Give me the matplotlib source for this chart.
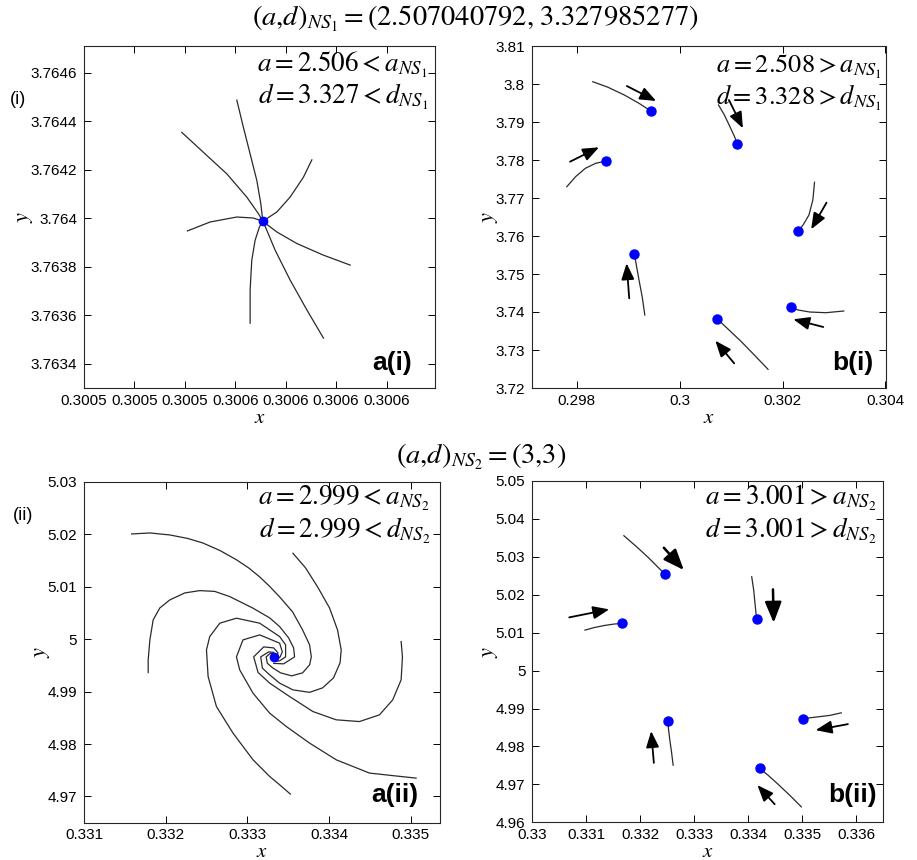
import matplotlib
matplotlib.use('Agg')
import matplotlib.pyplot as plt
from matplotlib.ticker import FuncFormatter

plt.rcParams['font.family'] = ['Liberation Sans', 'DejaVu Sans']
plt.rcParams['mathtext.fontset'] = 'stix'

# ---------------- data ----------------
# a(i): stable node, trajectories converging to fixed point
ai_fixed = (0.30055546, 3.7639873)
ai_curves_x = [
    [0.30053939, 0.30054367, 0.30054831, 0.30055228, 0.30055458, 0.30055546],
    [0.30055030, 0.30055161, 0.30055294, 0.30055427, 0.30055506, 0.30055546],
    [0.30056518, 0.30056351, 0.30056087, 0.30055823, 0.30055625, 0.30055546],
    [0.30057278, 0.30056748, 0.30056220, 0.30055823, 0.30055546],
    [0.30056748, 0.30056419, 0.30056087, 0.30055790, 0.30055625, 0.30055546],
    [0.30055294, 0.30055294, 0.30055327, 0.30055393, 0.30055478, 0.30055546],
    [0.30054050, 0.30054500, 0.30055030, 0.30055359, 0.30055546],
]
ai_curves_y = [
    [3.7643540, 3.7642718, 3.7641831, 3.7640870, 3.7640189, 3.7639873],
    [3.7644869, 3.7643744, 3.7642652, 3.7641556, 3.7640600, 3.7639873],
    [3.7642406, 3.7641691, 3.7640870, 3.7640255, 3.7639984, 3.7639873],
    [3.7638067, 3.7638477, 3.7638957, 3.7639434, 3.7639873],
    [3.7635058, 3.7636219, 3.7637451, 3.7638682, 3.7639503, 3.7639873],
    [3.7635673, 3.7637040, 3.7638272, 3.7639093, 3.7639639, 3.7639873],
    [3.7639475, 3.7639844, 3.7640049, 3.7640008, 3.7639873],
]
ai_xticks = [0.30052, 0.30053, 0.30054, 0.30055, 0.30056, 0.30057, 0.30058]
ai_xticklabels = ['0.3005', '0.3005', '0.3005', '0.3006', '0.3006', '0.3006', '0.3006']
ai_yticks = [3.7634, 3.7636, 3.7638, 3.764, 3.7642, 3.7644, 3.7646]
ai_yticklabels = ['3.7634', '3.7636', '3.7638', '3.764', '3.7642', '3.7644', '3.7646']

# b(i): period orbit points with short trajectories
bi_curves_x = [
    [0.298309, 0.298607, 0.298923, 0.299208, 0.299446],
    [0.300754, 0.300868, 0.300976, 0.301071, 0.301115],
    [0.302620, 0.302588, 0.302512, 0.302398, 0.302303],
    [0.303189, 0.302840, 0.302525, 0.302303, 0.302157],
    [0.301716, 0.301450, 0.301198, 0.300944, 0.300724],
    [0.299321, 0.299270, 0.299208, 0.299156, 0.299118],
    [0.297805, 0.297975, 0.298165, 0.298366, 0.298574],
]
bi_curves_y = [
    [3.800605, 3.799132, 3.797105, 3.794921, 3.792816],
    [3.794474, 3.791842, 3.788763, 3.785974, 3.784210],
    [3.774131, 3.769473, 3.765526, 3.762894, 3.761394],
    [3.740263, 3.739815, 3.740000, 3.740526, 3.741236],
    [3.724920, 3.728684, 3.732184, 3.735447, 3.738236],
    [3.739210, 3.744026, 3.748421, 3.752368, 3.755263],
    [3.772973, 3.775605, 3.777815, 3.779131, 3.779737],
]
bi_arrow_tail = [(0.298972, 3.799474), (0.300957, 3.795789), (0.302853, 3.768763),
                 (0.302790, 3.736053), (0.301058, 3.726500), (0.299018, 3.743605),
                 (0.297867, 3.779553)]
bi_arrow_head = [(0.299541, 3.795526), (0.301228, 3.788342), (0.302555, 3.761763),
                 (0.302208, 3.738079), (0.300692, 3.732447), (0.298967, 3.752816),
                 (0.298430, 3.783342)]

# a(ii): stable focus, spiralling trajectories
aii_fixed = (0.333323, 4.99655)
aii_curves_x = [
    [0.331583, 0.331807, 0.332051, 0.332271, 0.332455, 0.332663, 0.332870, 0.333017, 0.333152,
     0.333274, 0.333396, 0.333555, 0.333677, 0.333763, 0.333784, 0.333763, 0.333677, 0.333543,
     0.333408, 0.333311, 0.333245, 0.333231, 0.333280, 0.333323],
    [0.333559, 0.333714, 0.333861, 0.334007, 0.334105, 0.334150, 0.334136, 0.334056, 0.333922,
     0.333763, 0.333559, 0.333396, 0.333274, 0.333185, 0.333164, 0.333262, 0.333323],
    [0.334884, 0.334900, 0.334884, 0.334781, 0.334619, 0.334374, 0.334089, 0.333803, 0.333518,
     0.333274, 0.333132, 0.333078, 0.333201, 0.333323, 0.333374, 0.333372],
    [0.335067, 0.334802, 0.334496, 0.334089, 0.333763, 0.333478, 0.333274, 0.333070, 0.332907,
     0.332867, 0.332947, 0.333152, 0.333396, 0.333429, 0.333402, 0.333359],
    [0.333527, 0.333396, 0.333274, 0.333070, 0.332825, 0.332622, 0.332520, 0.332500, 0.332540,
     0.332663, 0.332867, 0.333152, 0.333396, 0.333469, 0.333469, 0.333396, 0.333335],
    [0.331786, 0.331786, 0.331807, 0.331847, 0.331929, 0.332051, 0.332235, 0.332418, 0.332601,
     0.332785, 0.333070, 0.333274, 0.333396, 0.333506, 0.333567, 0.333579, 0.333445, 0.333323],
]
aii_curves_y = [
    [5.02004, 5.02023, 5.01985, 5.01918, 5.01832, 5.01690, 5.01509, 5.01356, 5.01185,
     5.01004, 5.00804, 5.00518, 5.00175, 4.99890, 4.99661, 4.99509, 4.99356, 4.99299,
     4.99356, 4.99451, 4.99539, 4.99661, 4.99728, 4.99728],
    [5.01636, 5.01356, 5.00994, 5.00594, 5.00175, 4.99794, 4.99547, 4.99261, 4.99070,
     4.98985, 4.99032, 4.99160, 4.99318, 4.99446, 4.99661, 4.99756, 4.99747],
    [4.99952, 4.99661, 4.99223, 4.98842, 4.98556, 4.98428, 4.98461, 4.98619, 4.98905,
     4.99160, 4.99364, 4.99661, 4.99851, 4.99832, 4.99741, 4.99661],
    [4.97350, 4.97394, 4.97446, 4.97699, 4.98017, 4.98333, 4.98588, 4.98969, 4.99413,
     4.99661, 4.99985, 5.00080, 4.99922, 4.99756, 4.99661, 4.99604],
    [4.97046, 4.97223, 4.97381, 4.97699, 4.98207, 4.98714, 4.99286, 4.99794, 5.00048,
     5.00303, 5.00398, 5.00303, 5.00048, 4.99890, 4.99661, 4.99585, 4.99575],
    [4.99362, 4.99604, 4.99985, 5.00366, 5.00594, 5.00747, 5.00880, 5.00924, 5.00909,
     5.00810, 5.00589, 5.00404, 5.00238, 5.00023, 4.99832, 4.99661, 4.99528, 4.99537],
]

# b(ii): period orbit points with short trajectories
bii_curves_x = [
    [0.331696, 0.331931, 0.332145, 0.332330, 0.332454],
    [0.334063, 0.334100, 0.334124, 0.334143, 0.334156],
    [0.335722, 0.335506, 0.335289, 0.335136, 0.335012],
    [0.334982, 0.334766, 0.334550, 0.334365, 0.334211],
    [0.332608, 0.332578, 0.332547, 0.332523, 0.332510],
    [0.330975, 0.331160, 0.331345, 0.331511, 0.331659],
]
bii_curves_y = [
    [5.035567, 5.032665, 5.029868, 5.027230, 5.025462],
    [5.024750, 5.021240, 5.017731, 5.015093, 5.013510],
    [4.988866, 4.988180, 4.987811, 4.987547, 4.987283],
    [4.964064, 4.967151, 4.970053, 4.972428, 4.974196],
    [4.975067, 4.978576, 4.981663, 4.984486, 4.986676],
    [5.010686, 5.011399, 5.011926, 5.012269, 5.012454],
]
bii_arrow_tail = [(0.332436, 5.032401), (0.334457, 5.021425), (0.335844, 4.985884),
                  (0.334488, 4.964776), (0.332251, 4.975673), (0.330684, 5.014037)]
bii_arrow_head = [(0.332806, 5.026517), (0.334470, 5.012612), (0.335247, 4.984301),
                  (0.334169, 4.969790), (0.332201, 4.984037), (0.331424, 5.016148)]
bii_arrow_bold = [True, True, False, False, False, False]

title1 = r'$(a{,}d)_{NS_1}=(2.507040792{,}\;3.327985277)$'
title2 = r'$(a{,}d)_{NS_2}=(3{,}3)$'
txt_ai = [r'$a=2.506<a_{NS_1}$', r'$d=3.327<d_{NS_1}$']
txt_bi = [r'$a=2.508>a_{NS_1}$', r'$d=3.328>d_{NS_1}$']
txt_aii = [r'$a=2.999<a_{NS_2}$', r'$d=2.999<d_{NS_2}$']
txt_bii = [r'$a=3.001>a_{NS_2}$', r'$d=3.001>d_{NS_2}$']

# ---------------- figure ----------------
W, H = 917, 860
fig = plt.figure(figsize=(W / 100, H / 100), dpi=100)


def make_ax(l, r, t, b):
    return fig.add_axes([l / W, 1 - b / H, (r - l) / W, (b - t) / H])


LINE_C = '#2a2a2a'
EDGE_C = '#262626'


def style(ax, xlab_y):
    for s in ax.spines.values():
        s.set_color(EDGE_C)
        s.set_linewidth(0.8)
    ax.tick_params(direction='in', top=True, right=True, length=5, width=0.7,
                   labelsize=11, colors='black')
    ax.tick_params(axis='x', pad=4)
    ax.tick_params(axis='y', pad=5)
    ax.set_xlabel(r'$x$', fontsize=15)
    ax.xaxis.set_label_coords(0.5, xlab_y)
    ax.xaxis.label.set_va('center')
    ax.set_ylabel(r'$y$', fontsize=16, labelpad=-3)


gfmt = FuncFormatter(lambda v, p: f'{v:g}')

# a(i)
ax1 = make_ax(84, 435, 46, 388)
for xs, ys in zip(ai_curves_x, ai_curves_y):
    ax1.plot(xs, ys, color=LINE_C, lw=0.9)
ax1.plot(*ai_fixed, 'o', color='blue', ms=6)
ax1.set_xlim(0.30052, 0.3005896)
ax1.set_ylim(3.7633, 3.76471)
ax1.set_xticks(ai_xticks)
ax1.set_xticklabels(ai_xticklabels)
ax1.set_yticks(ai_yticks)
ax1.set_yticklabels(ai_yticklabels)
style(ax1, -0.086)

# b(i)
ax2 = make_ax(532, 885.5, 46, 388)
for xs, ys in zip(bi_curves_x, bi_curves_y):
    ax2.plot(xs, ys, color=LINE_C, lw=0.9)
    ax2.plot(xs[-1], ys[-1], 'o', color='blue', ms=6.5)
for t, h in zip(bi_arrow_tail, bi_arrow_head):
    ax2.annotate('', xy=h, xytext=t,
                 arrowprops=dict(arrowstyle='-|>,head_length=0.7,head_width=0.28',
                                 color='black', lw=1.3, mutation_scale=14,
                                 shrinkA=0, shrinkB=0))
ax2.set_xlim(0.297128, 0.304)
ax2.set_ylim(3.72, 3.81)
ax2.set_xticks([0.298, 0.300, 0.302, 0.304])
ax2.set_yticks([3.72, 3.73, 3.74, 3.75, 3.76, 3.77, 3.78, 3.79, 3.80, 3.81])
ax2.xaxis.set_major_formatter(gfmt)
ax2.yaxis.set_major_formatter(gfmt)
style(ax2, -0.086)

# a(ii)
ax3 = make_ax(84, 440, 481.7, 822.7)
for xs, ys in zip(aii_curves_x, aii_curves_y):
    ax3.plot(xs, ys, color=LINE_C, lw=0.9)
ax3.plot(*aii_fixed, 'o', color='blue', ms=6)
ax3.set_xlim(0.331, 0.33536)
ax3.set_ylim(4.965, 5.03)
ax3.set_xticks([0.331, 0.332, 0.333, 0.334, 0.335])
ax3.set_yticks([4.97, 4.98, 4.99, 5.00, 5.01, 5.02, 5.03])
ax3.xaxis.set_major_formatter(gfmt)
ax3.yaxis.set_major_formatter(gfmt)
style(ax3, -0.085)

# b(ii)
ax4 = make_ax(532.3, 883.3, 481, 822.3)
for xs, ys in zip(bii_curves_x, bii_curves_y):
    ax4.plot(xs, ys, color=LINE_C, lw=0.9)
    ax4.plot(xs[-1], ys[-1], 'o', color='blue', ms=6.5)
for t, h, bold in zip(bii_arrow_tail, bii_arrow_head, bii_arrow_bold):
    ax4.annotate('', xy=h, xytext=t,
                 arrowprops=dict(arrowstyle='-|>,head_length=0.7,head_width=0.28',
                                 color='black', lw=1.8 if bold else 1.3,
                                 mutation_scale=18 if bold else 14,
                                 shrinkA=0, shrinkB=0))
ax4.set_xlim(0.33, 0.3365)
ax4.set_ylim(4.96, 5.05)
ax4.set_xticks([0.330, 0.331, 0.332, 0.333, 0.334, 0.335, 0.336])
ax4.set_yticks([4.96, 4.97, 4.98, 4.99, 5.00, 5.01, 5.02, 5.03, 5.04, 5.05])
ax4.xaxis.set_major_formatter(gfmt)
ax4.yaxis.set_major_formatter(gfmt)
style(ax4, -0.085)

# in-panel annotations
TS = 19.5
for ax, txts, xr, y1, y2, fs in [(ax1, txt_ai, 0.98, 0.925, 0.830, TS),
                                  (ax2, txt_bi, 0.989, 0.920, 0.828, 19),
                                  (ax3, txt_aii, 0.972, 0.932, 0.835, TS),
                                  (ax4, txt_bii, 0.981, 0.930, 0.833, TS)]:
    ax.text(xr, y1, txts[0], transform=ax.transAxes, ha='right', va='baseline', fontsize=fs)
    ax.text(xr, y2, txts[1], transform=ax.transAxes, ha='right', va='baseline', fontsize=fs)

for ax, lab, xr, yb in [(ax1, 'a(i)', 0.934, 0.053), (ax2, 'b(i)', 0.965, 0.053),
                        (ax3, 'a(ii)', 0.938, 0.062), (ax4, 'b(ii)', 0.982, 0.060)]:
    ax.text(xr, yb, lab, transform=ax.transAxes, ha='right', va='baseline',
            fontsize=19, fontweight='bold')

fig.text(475 / W, 1 - 26 / H, title1, ha='center', va='baseline', fontsize=20.5)
fig.text(481 / W, 1 - 464 / H, title2, ha='center', va='baseline', fontsize=20.5)
fig.text(10 / W, 1 - 99 / H, '(i)', ha='left', va='center', fontsize=13)
fig.text(13 / W, 1 - 515 / H, '(ii)', ha='left', va='center', fontsize=13)

fig.savefig('out.png', dpi=100)
